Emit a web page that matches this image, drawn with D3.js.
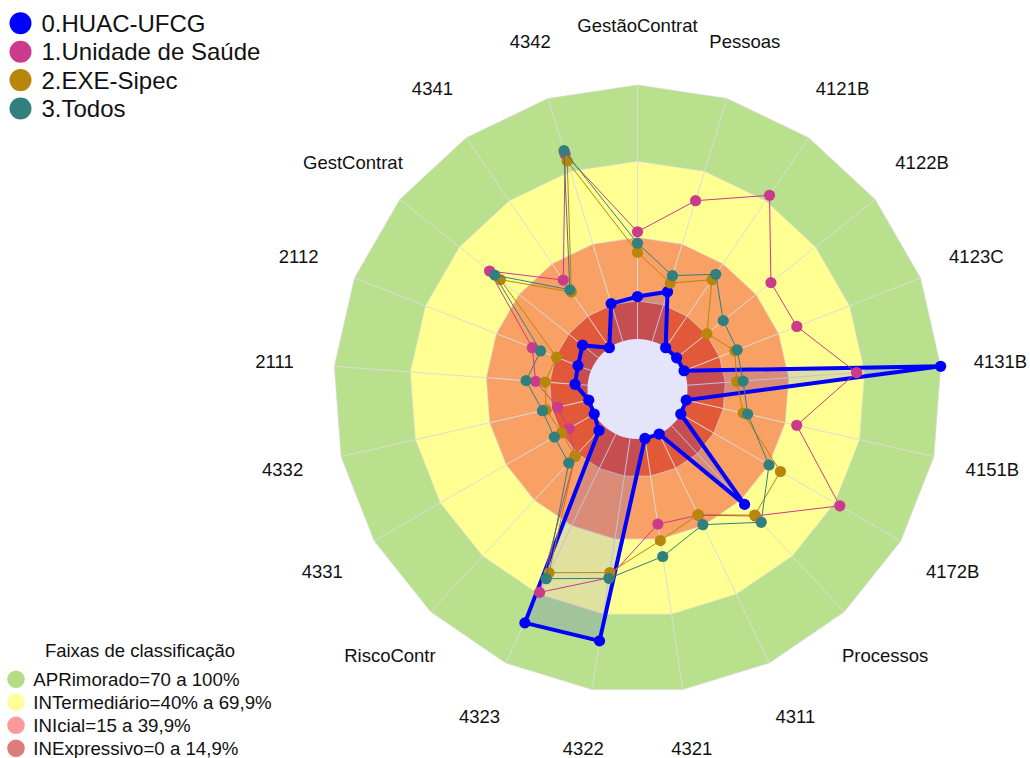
<!DOCTYPE html>
<html><head><meta charset="utf-8">
<script src="https://cdn.jsdelivr.net/npm/d3@7"></script>
<style>body{margin:0;background:#fff;}svg{display:block;font-family:"Liberation Sans",Arial,sans-serif;}</style>
</head><body>
<svg id="chart" width="1030" height="758"></svg>
<script>
const axes = ["GestãoContrat","Pessoas","4121B","4122B","4123C","4131B","4151B","4172B","Processos","4311","4321","4322","4323","RiscoContr","4331","4332","2111","2112","GestContrat","4341","4342"];
const seriesNames = ["0.HUAC-UFCG","1.Unidade de Saúde","2.EXE-Sipec","3.Todos"];
const huac  = [16.7,20.4,0,0,0,100,0,0,42.3,0,0,80.6,82.5,2.6,0,0,5,5.5,8,0,15.5];
const saude = [42.2,57.9,72.6,47.5,47.7,66.8,44.6,72.3,48.5,35.5,34.1,55.5,69.2,16.5,11.4,12.6,20.5,24.8,54.8,32.2,77];
const sipec = [34.1,24,32.4,15.3,21.5,19.5,23,45.3,48.1,35.2,40.7,53.4,60.6,16.4,14.8,17.2,16.8,14.6,49.4,26.5,74.2];
const todos = [37.7,27,35,23.5,22.5,22,24.8,40.1,51.9,39.6,47,55.7,63.2,20.1,18.1,18.7,24.3,21.3,52.2,27.6,78.5];
const bandLimits = [100,70,40,15];
const bandLabels = ["APRimorado=70 a 100%","INTermediário=40% a 69,9%","INIcial=15 a 39,9%","INExpressivo=0 a 14,9%"];
const legendTitle = "Faixas de classificação";

const seriesColors = ["#0000ff","#cc3a8b","#b8860b","#31807d"];
const bandColors = ["#b9e08c","#ffff92","#f9a065","#e2593a"];
const bandLegendColors = ["#b5de84","#ffff99","#ff9a9a","#dc7c7c"];

const svg = d3.select("#chart");
const cx = 637.5, cy = 389;
const r = d3.scaleLinear().domain([0,100]).range([50,304]);
const ang = d3.scaleLinear().domain([0, axes.length]).range([0, 2*Math.PI]);
const pt = (v,i) => [cx + r(v)*Math.sin(ang(i)), cy - r(v)*Math.cos(ang(i))];
const g = svg.append("g");

// bands
bandLimits.forEach((b,k) => {
  g.append("path")
    .attr("d", d3.line()(axes.map((a,i)=>pt(b,i))) + "Z")
    .attr("fill", bandColors[k])
    .attr("stroke", "#d8d8d8").attr("stroke-width", 0.7);
});
// spokes
axes.forEach((a,i) => {
  const p0 = pt(0,i), p1 = pt(100,i);
  g.append("line").attr("x1",p0[0]).attr("y1",p0[1]).attr("x2",p1[0]).attr("y2",p1[1])
    .attr("stroke","#dcdcdc").attr("stroke-width",1);
});
// blue fill
const data = [huac, saude, sipec, todos];
g.append("path")
  .attr("d", d3.line()(huac.map((v,i)=>pt(v,i))) + "Z")
  .attr("fill", seriesColors[0]).attr("fill-opacity", 0.12);
// center
g.append("circle").attr("cx",cx).attr("cy",cy).attr("r",r(0)).attr("fill","#e4e4fa");

// series
data.forEach((vals,s) => {
  const pts = vals.map((v,i)=>pt(v,i));
  g.append("path").attr("d", d3.line()(pts) + "Z")
    .attr("fill","none").attr("stroke",seriesColors[s])
    .attr("stroke-width", s===0 ? 4 : 1).attr("stroke-linejoin","round");
  g.selectAll(null).data(pts).enter().append("circle")
    .attr("cx",d=>d[0]).attr("cy",d=>d[1]).attr("r",5.6)
    .attr("fill",seriesColors[s]);
});

// axis labels
axes.forEach((a,i) => {
  const rr = 364;
  g.append("text")
    .attr("x", cx + rr*Math.sin(ang(i)))
    .attr("y", cy - rr*Math.cos(ang(i)))
    .attr("text-anchor","middle").attr("dominant-baseline","central")
    .attr("font-size","18.5px").attr("fill","#111")
    .text(a);
});

// top legend
seriesNames.forEach((n,k) => {
  const y = 23.3 + k*28.4;
  svg.append("circle").attr("cx",20.5).attr("cy",y).attr("r",11).attr("fill",seriesColors[k]);
  svg.append("text").attr("x",41.5).attr("y",y).attr("dominant-baseline","central")
    .attr("font-size","24px").attr("fill","#111").text(n);
});

// bottom legend
svg.append("text").attr("x",140).attr("y",650).attr("text-anchor","middle")
  .attr("dominant-baseline","central").attr("font-size","18.5px").attr("fill","#111").text(legendTitle);
bandLabels.forEach((t,k) => {
  const y = 679.3 + k*23;
  svg.append("circle").attr("cx",16).attr("cy",y).attr("r",8.8).attr("fill",bandLegendColors[k]);
  svg.append("text").attr("x",33.3).attr("y",y).attr("dominant-baseline","central")
    .attr("font-size","18.7px").attr("fill","#111").text(t);
});
</script>
</body></html>
